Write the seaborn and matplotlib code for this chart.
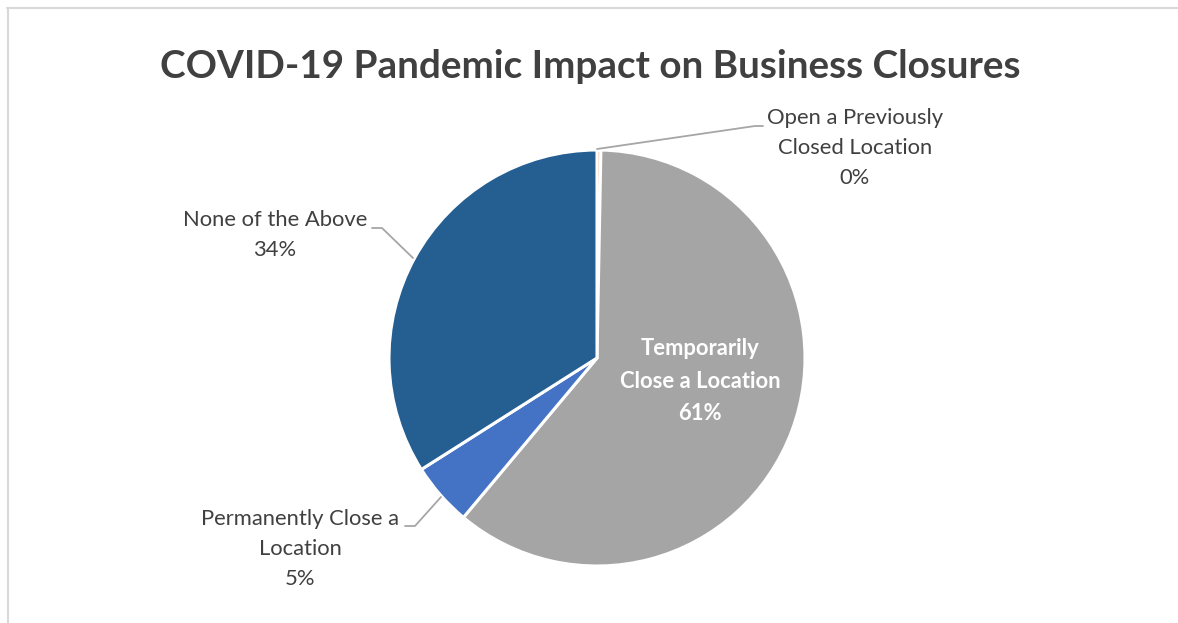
import matplotlib
matplotlib.use("Agg")
import matplotlib.pyplot as plt
from matplotlib.lines import Line2D
import seaborn as sns

# data
categories = ["Open a Previously Closed Location", "Temporarily Close a Location",
              "Permanently Close a Location", "None of the Above"]
shares = [0.3, 60.8, 4.9, 34.0]
colors = ["#ED7D31", "#A5A5A5", "#4472C4", "#255E91"]

sns.set_theme(style="white")
plt.rcParams['font.family'] = ['Lato', 'DejaVu Sans']

W, H = 1178, 623
fig = plt.figure(figsize=(W / 100, H / 100), dpi=100)
ax = fig.add_axes([0, 0, 1, 1])

def py(y):
    # pixel row (from top) -> data y
    return H - y

cx, cy, r = 597, 358, 208
wedges, _ = ax.pie(shares, colors=colors, startangle=90, counterclock=False,
                   center=(cx, py(cy)), radius=r, frame=True,
                   wedgeprops=dict(edgecolor="white", linewidth=2.2))
ax.set_xlim(0, W)
ax.set_ylim(0, H)
ax.set_aspect("equal")
ax.axis("off")

txt = "#404040"
lead = "#A6A6A6"
fs = 15.8
ls = 1.65

def pct(v):
    return "%d%%" % round(v)

# title
ax.text(590, py(66), "COVID-19 Pandemic Impact on Business Closures", ha="center",
        va="center", fontsize=27.8, fontweight="bold", color=txt)

# outside labels
ax.text(855, py(148), "Open a Previously\nClosed Location\n" + pct(shares[0]),
        ha="center", va="center", fontsize=fs, color=txt, linespacing=ls)
ax.plot([597, 755, 763], [py(149), py(126), py(126)], color=lead, lw=1.3)

ax.text(275, py(235), "None of the Above\n" + pct(shares[3]),
        ha="center", va="center", fontsize=fs, color=txt, linespacing=ls)
ax.plot([372, 382, 413], [py(228), py(228), py(258)], color=lead, lw=1.3)

ax.text(300, py(549), "Permanently Close a\nLocation\n" + pct(shares[2]),
        ha="center", va="center", fontsize=fs, color=txt, linespacing=ls)
ax.plot([405, 415, 441], [py(526), py(526), py(497)], color=lead, lw=1.3)

# inside label
ax.text(700, py(381), "Temporarily\nClose a Location\n" + pct(shares[1]),
        ha="center", va="center", fontsize=fs, color="white", fontweight="bold",
        linespacing=ls)

# chart area frame
fig.add_artist(Line2D([7.5 / W, 7.5 / W], [0, 1 - 8 / H], transform=fig.transFigure,
                      color="#D9D9D9", lw=1.5))
fig.add_artist(Line2D([7 / W, 1], [1 - 8 / H, 1 - 8 / H], transform=fig.transFigure,
                      color="#D9D9D9", lw=1.5))

fig.savefig("out.png", dpi=100)
